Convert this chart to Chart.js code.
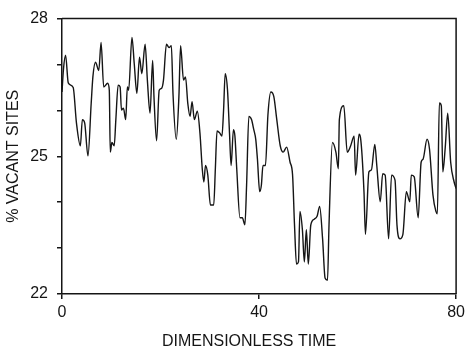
<!DOCTYPE html>
<html>
<head>
<meta charset="utf-8">
<script src="https://cdn.jsdelivr.net/npm/chart.js@4.4.0/dist/chart.umd.min.js"></script>
<style>
  html, body { margin: 0; padding: 0; background: #fff; }
</style>
</head>
<body>
<canvas id="chart" width="469" height="349"></canvas>
<script>
// values (dimensionless time, % vacant sites)
const TIME = [
  0, 0.3, 0.73, 1.27, 2.27, 2.93, 3.73, 4.13, 4.6, 5.27, 5.93, 6.27, 6.8, 7.47, 7.93,
  8.47, 9.27, 9.6, 9.8, 10.13, 10.6, 10.93, 11.4, 11.8, 12.07, 12.47, 12.93, 13.27, 13.53,
  14.2, 14.67, 15.2, 15.73, 16.2, 16.87, 17.33, 17.87, 18.4, 18.67, 19.2, 19.73, 20.2, 20.6,
  21.2, 21.73, 22.2, 22.53, 23.2, 23.73, 24.07, 24.67, 25.07, 25.53, 26.0, 26.4, 26.87,
  27.47, 28.0, 28.47, 28.8, 29.13, 29.6, 30.13, 30.8, 31.13, 31.47, 32.0, 32.47, 32.8,
  33.13, 33.6, 34.0, 34.33, 34.8, 35.1, 35.47, 36.13, 36.6, 37.13, 37.47, 37.93, 38.47,
  38.93, 39.33, 39.67, 40.13, 40.47, 40.8, 41.3, 41.8, 42.4, 43.0, 43.6, 44.3, 44.9, 45.6,
  46.3, 46.8, 47.2, 47.6, 48.0, 48.3, 48.8, 49.2, 49.6, 50.0, 50.5, 51.2, 51.8, 52.3, 52.9,
  53.4, 53.9, 54.2, 54.9, 55.6, 56.1, 56.3, 57.2, 57.9, 58.6, 59.3, 59.6, 60.3, 60.6, 61.3,
  61.6, 62.3, 62.8, 63.5, 63.9, 64.6, 65.1, 65.6, 66.3, 66.9, 67.6, 68.0, 68.6, 69.2, 69.9,
  70.6, 70.9, 71.5, 72.3, 72.9, 73.3, 74.1, 74.6, 75.3, 75.9, 76.2, 76.6, 77.0, 77.3, 77.8,
  78.3, 78.9, 79.6, 80
];
const VACANT = [
  26.4, 26.9, 27.2, 26.6, 26.5, 25.73, 25.23, 25.8, 25.73, 25.01, 26.16, 26.73, 27.05, 26.87, 27.48,
  26.51, 26.59, 26.44, 25.09, 25.3, 25.23, 25.8, 26.55, 26.51, 26.01, 26.05, 25.8, 26.51, 26.44,
  27.59, 27.01, 26.37, 27.16, 26.8, 27.44, 26.66, 25.94, 27.09, 26.3, 25.34, 26.44, 26.48, 26.66,
  27.44, 27.37, 27.41, 26.37, 25.37, 26.3, 27.41, 26.66, 26.73, 26.16, 25.87, 26.19, 25.8,
  25.98, 25.51, 24.73, 24.44, 24.8, 24.59, 23.94, 23.94, 24.73, 25.55, 25.51, 25.44, 26.01,
  26.8, 26.44, 25.51, 24.8, 25.58, 25.44, 24.73, 23.66, 23.66, 23.51, 24.37, 25.87, 25.8,
  25.58, 25.37, 24.94, 24.23, 24.37, 24.8, 24.8, 25.9, 26.4, 26.3, 25.8, 25.23, 25.09, 25.2,
  24.87, 24.6, 23.5, 22.65, 22.7, 23.8, 23.4, 22.7, 23.4, 22.65, 23.5, 23.63, 23.7, 23.91, 23.2,
  22.35, 22.3, 23.5, 25.3, 25.09, 24.73, 25.8, 26.1, 25.09, 25.23, 25.44, 24.59, 25.48, 25.4, 24.23,
  23.3, 24.66, 24.7, 25.26, 24.8, 24.01, 24.62, 24.59, 23.2, 24.59, 24.48, 23.5, 23.2, 23.3, 24.23,
  24.01, 24.59, 24.55, 23.66, 24.87, 24.94, 25.37, 25.16, 24.16, 23.8, 23.75, 26.16, 26.1, 24.66, 25.2,
  25.94, 24.87, 24.44, 24.3
];
const X_TICKS = [0, 40, 80];
const Y_LABELS = [22, 25, 28];

const INK = '#151515';

// closes the frame on the top and right sides
const framePlugin = {
  id: 'frame',
  afterDraw(chart) {
    const { ctx, chartArea: a } = chart;
    ctx.save();
    ctx.strokeStyle = INK;
    ctx.lineWidth = 1.5;
    ctx.beginPath();
    ctx.moveTo(a.left, a.top);
    ctx.lineTo(a.right, a.top);
    ctx.lineTo(a.right, a.bottom);
    ctx.stroke();
    ctx.restore();
  }
};

// the x title sits a little left of the axis centre in the original
function nudgeTitle(s, dx) {
  if (s._nudged) return;
  const draw = s.drawTitle;
  s.drawTitle = function (...args) {
    this.ctx.save();
    this.ctx.translate(dx, 0);
    draw.apply(this, args);
    this.ctx.restore();
  };
  s._nudged = true;
}

Chart.defaults.font.family = '"Liberation Sans", Arial, sans-serif';
Chart.defaults.font.size = 16;
Chart.defaults.color = INK;

new Chart(document.getElementById('chart'), {
  type: 'line',
  data: {
    datasets: [{
      data: TIME.map((t, i) => ({ x: t, y: VACANT[i] })),
      borderColor: INK,
      borderWidth: 1.4,
      pointRadius: 0,
      cubicInterpolationMode: 'monotone',
      fill: false
    }]
  },
  options: {
    responsive: false,
    animation: false,
    layout: { padding: { top: 14, right: 8, left: 0, bottom: 0 } },
    plugins: { legend: { display: false }, tooltip: { enabled: false } },
    scales: {
      x: {
        type: 'linear', min: 0, max: 80,
        afterBuildTicks: s => { s.ticks = X_TICKS.map(v => ({ value: v })); },
        afterFit: s => { s.height = 55; nudgeTitle(s, -10); },
        ticks: { padding: 4, maxRotation: 0 },
        grid: { drawOnChartArea: false, drawTicks: true, tickLength: 5, color: INK, lineWidth: 1.5 },
        border: { display: true, color: INK, width: 1.5 },
        title: {
          display: true, text: 'DIMENSIONLESS TIME',
          font: { size: 16, lineHeight: 1 }, padding: { top: 0, bottom: -1 }
        }
      },
      y: {
        min: 22, max: 28,
        afterFit: s => { s.width = 62; },
        ticks: { stepSize: 1, padding: 9, callback: v => Y_LABELS.includes(v) ? String(v) : '' },
        grid: { drawOnChartArea: false, drawTicks: true, tickLength: 5, color: INK, lineWidth: 1.5 },
        border: { display: true, color: INK, width: 1.5 },
        title: {
          display: true, text: '% VACANT SITES',
          font: { size: 16, lineHeight: 1.2 }, padding: { top: 4, bottom: 0 }
        }
      }
    }
  },
  plugins: [framePlugin]
});
</script>
</body>
</html>
